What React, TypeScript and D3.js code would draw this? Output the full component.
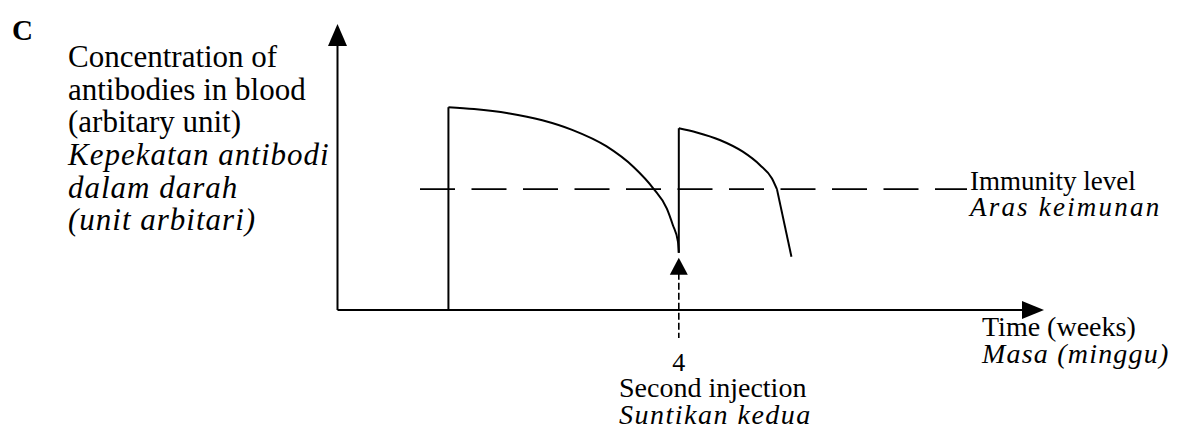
import React from 'react';
import * as d3 from 'd3';

const W = 1177;
const H = 435;

// schematic values (weeks, arbitrary units)
const firstInjectionWeek = 1.3;
const secondInjectionWeek = 4;
const immunityLevel = 4.65;

const firstWeeks = [1.3, 1.6, 2.0, 2.4, 2.75, 3.15, 3.47, 3.7, 3.86, 3.93, 3.99, 4.0];
const firstConc = [7.8, 7.73, 7.57, 7.3, 6.93, 6.3, 5.5, 4.68, 3.9, 3.27, 2.63, 2.2];

const secondWeeks = [4.0, 4.21, 4.48, 4.75, 4.95, 5.09, 5.15];
const secondConc = [6.99, 6.83, 6.54, 6.09, 5.58, 5.07, 4.65];
const tailWeeks = [5.15, 5.32];
const tailConc = [4.65, 2.05];

const yLabelLines = ['Concentration of', 'antibodies in blood', '(arbitary unit)'];
const yLabelLinesMs = ['Kepekatan antibodi', 'dalam darah', '(unit arbitari)'];
const tickLabels = ['4'];

const serif = '"Liberation Serif", "Times New Roman", serif';

type Pt = { w: number; c: number };
const zip = (ws: number[], cs: number[]): Pt[] => ws.map((w, i) => ({ w, c: cs[i] }));

export default function App() {
  const x = d3.scaleLinear().domain([0, 8.28]).range([337.5, 1044]);
  const y = d3.scaleLinear().domain([0, 11]).range([310, 24]);

  const smooth = d3.line<Pt>().x(d => x(d.w)).y(d => y(d.c)).curve(d3.curveMonotoneX);
  const straight = d3.line<Pt>().x(d => x(d.w)).y(d => y(d.c));

  const first = zip(firstWeeks, firstConc);
  const second = zip(secondWeeks, secondConc);
  const tail = zip(tailWeeks, tailConc);

  const x0 = x(0);
  const y0 = y(0);
  const xEnd = x.range()[1];
  const yTop = y.range()[1];
  const xInj = x(secondInjectionWeek);
  const arrowTip = y(first[first.length - 1].c) + 5;

  return (
    <svg width={W} height={H} style={{ position: 'absolute', left: 0, top: 0, background: '#fff' }}>
      <text x={12} y={40} fontFamily={serif} fontWeight="bold" fontSize={29}>C</text>

      {/* axes */}
      <line x1={x0} y1={y0} x2={x0} y2={yTop + 20} stroke="#000" strokeWidth={2} />
      <path d={`M${x0},${yTop} L${x0 - 9.5},${yTop + 22} L${x0 + 9.5},${yTop + 22} Z`} fill="#000" />
      <line x1={x0} y1={y0} x2={xEnd - 20} y2={y0} stroke="#000" strokeWidth={2} />
      <path d={`M${xEnd},${y0} L${xEnd - 22},${y0 - 9} L${xEnd - 22},${y0 + 9} Z`} fill="#000" />

      {/* immunity level */}
      <line x1={420} y1={y(immunityLevel)} x2={967} y2={y(immunityLevel)}
        stroke="#000" strokeWidth={1.8} strokeDasharray="35,16.5" />

      {/* first response */}
      <path d={straight(zip([firstInjectionWeek, firstInjectionWeek], [0, firstConc[0]])) || ''}
        fill="none" stroke="#000" strokeWidth={2} />
      <path d={smooth(first) || ''} fill="none" stroke="#000" strokeWidth={2} />

      {/* second response */}
      <path d={straight(zip([secondInjectionWeek, secondInjectionWeek], [firstConc[firstConc.length - 1], secondConc[0]])) || ''}
        fill="none" stroke="#000" strokeWidth={2} />
      <path d={smooth(second) || ''} fill="none" stroke="#000" strokeWidth={2} />
      <path d={straight(tail) || ''} fill="none" stroke="#000" strokeWidth={2} />

      {/* second injection marker */}
      <line x1={xInj} y1={arrowTip + 15} x2={xInj} y2={y0 + 28} stroke="#000" strokeWidth={1.6} strokeDasharray="7,3" />
      <path d={`M${xInj},${arrowTip} L${xInj - 9},${arrowTip + 17} L${xInj + 9},${arrowTip + 17} Z`} fill="#000" />

      {tickLabels.map(t => (
        <text key={t} x={x(+t)} y={371} textAnchor="middle" fontFamily={serif} fontSize={26}>{t}</text>
      ))}
      <text x={619} y={397} fontFamily={serif} fontSize={28}>Second injection</text>
      <text x={619} y={424} fontFamily={serif} fontSize={28} fontStyle="italic" letterSpacing={1.5}>Suntikan kedua</text>

      {/* y label */}
      {yLabelLines.map((t, i) => (
        <text key={t} x={68} y={67 + i * 32.7} fontFamily={serif} fontSize={31}>{t}</text>
      ))}
      {yLabelLinesMs.map((t, i) => (
        <text key={t} x={68} y={165 + i * 32.7} fontFamily={serif} fontSize={31} fontStyle="italic" letterSpacing={1}>{t}</text>
      ))}

      <text x={970} y={190} fontFamily={serif} fontSize={27}>Immunity level</text>
      <text x={970} y={216} fontFamily={serif} fontSize={27} fontStyle="italic" letterSpacing={2.2}>Aras keimunan</text>

      <text x={982} y={336} fontFamily={serif} fontSize={28}>Time (weeks)</text>
      <text x={982} y={363} fontFamily={serif} fontSize={28} fontStyle="italic" letterSpacing={1.2}>Masa (minggu)</text>
    </svg>
  );
}
